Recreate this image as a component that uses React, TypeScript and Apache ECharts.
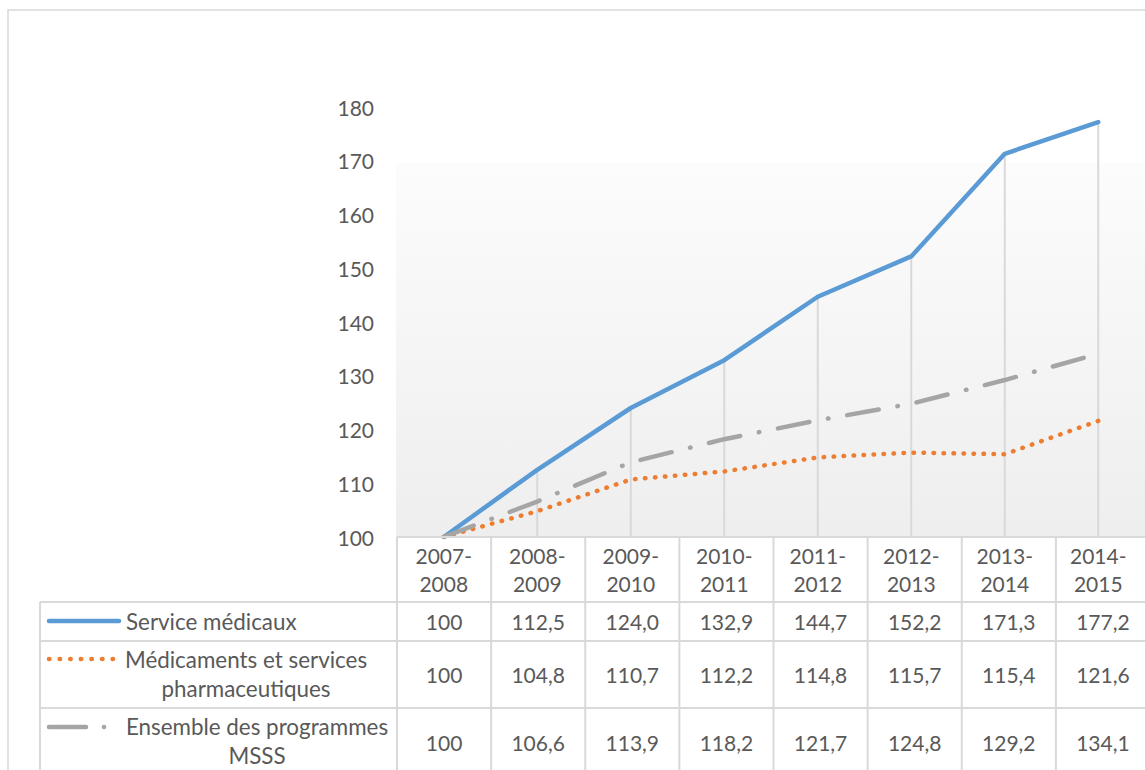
import React, { useEffect, useRef } from "react";
import * as echarts from "echarts";

const categories = ["2007-2008", "2008-2009", "2009-2010", "2010-2011", "2011-2012", "2012-2013", "2013-2014", "2014-2015"];
const serviceMedicaux = [100, 112.5, 124.0, 132.9, 144.7, 152.2, 171.3, 177.2];
const medicaments = [100, 104.8, 110.7, 112.2, 114.8, 115.7, 115.4, 121.6];
const ensemble = [100, 106.6, 113.9, 118.2, 121.7, 124.8, 129.2, 134.1];
const seriesNames = ["Service médicaux", "Médicaments et services\npharmaceutiques", "Ensemble des programmes\nMSSS"];
const yTicks = { min: 100, max: 180, interval: 10 };

const COLORS = ["#5B9BD5", "#ED7D31", "#A5A5A5"];
const TEXT = "#595959";
const BORDER = "#d9d9d9";
const FONT = "Lato";
const FS = 21;
const FS_LEG = 22.4;

export default function App() {
  const ref = useRef<HTMLDivElement>(null);
  useEffect(() => {
    if (!ref.current) return;
    const chart = echarts.init(ref.current, undefined, { renderer: "svg" });

    const W = 1145, H = 770;
    const gridLeft = 397, gridWidth = 753, gridTop = 107, gridBottomY = 537;
    const colW = gridWidth / categories.length;
    const rows = [
      { top: 602, bottom: 641 },
      { top: 641, bottom: 708 },
      { top: 708, bottom: 776 },
    ];
    const allSeries = [serviceMedicaux, medicaments, ensemble];
    const maxPerCat = categories.map((_, i) => Math.max(serviceMedicaux[i], medicaments[i], ensemble[i]));
    const fmt = (v: number, i: number) => (i === 0 ? String(v) : v.toFixed(1).replace(".", ","));

    const graphics: any[] = [];
    graphics.push({ type: "rect", z: -20, shape: { x: 8, y: 10, width: 1300, height: 900 }, style: { fill: "#fff", stroke: BORDER, lineWidth: 1.5 } });
    graphics.push({
      type: "rect", z: -10,
      shape: { x: 396, y: 163, width: 760, height: gridBottomY - 163 },
      style: { fill: new echarts.graphic.LinearGradient(0, 0, 0, 1, [{ offset: 0, color: "#fcfcfc" }, { offset: 1, color: "#eeeeee" }]) },
    });
    for (let k = 0; k <= categories.length; k++) {
      const x = gridLeft + k * colW;
      graphics.push({ type: "line", z: 5, shape: { x1: x, y1: gridBottomY, x2: x, y2: H + 10 }, style: { stroke: BORDER, lineWidth: 2 } });
    }
    graphics.push({ type: "line", z: 5, shape: { x1: gridLeft, y1: gridBottomY, x2: W + 10, y2: gridBottomY }, style: { stroke: BORDER, lineWidth: 2 } });
    rows.forEach((r) => {
      graphics.push({ type: "line", z: 5, shape: { x1: 40, y1: r.top, x2: W + 10, y2: r.top }, style: { stroke: BORDER, lineWidth: 2 } });
    });
    graphics.push({ type: "line", z: 5, shape: { x1: 40, y1: rows[0].top, x2: 40, y2: H + 10 }, style: { stroke: BORDER, lineWidth: 2 } });
    allSeries.forEach((vals, s) => {
      const cy = (rows[s].top + rows[s].bottom) / 2;
      vals.forEach((v, i) => {
        graphics.push({
          type: "text", z: 6, x: gridLeft + (i + 0.5) * colW, y: cy,
          style: { text: fmt(v, i), fill: TEXT, font: `${FS}px ${FONT}`, align: "center", verticalAlign: "middle" },
        });
      });
    });
    graphics.push({ type: "line", z: 6, shape: { x1: 49, y1: 621, x2: 119, y2: 621 }, style: { stroke: COLORS[0], lineWidth: 4.5, lineCap: "round" } });
    graphics.push({ type: "line", z: 6, shape: { x1: 49, y1: 659, x2: 113, y2: 659 }, style: { stroke: COLORS[1], lineWidth: 4.5, lineCap: "round", lineDash: [0.5, 10.1] } });
    graphics.push({ type: "line", z: 6, shape: { x1: 49, y1: 727, x2: 86, y2: 727 }, style: { stroke: COLORS[2], lineWidth: 4.5, lineCap: "round" } });
    graphics.push({ type: "circle", z: 6, shape: { cx: 104, cy: 727, r: 2.3 }, style: { fill: COLORS[2] } });
    const legendPos = [
      { x: 126, y: 621, align: "left" },
      { x: 246, y: 674, align: "center" },
      { x: 257, y: 741, align: "center" },
    ];
    seriesNames.forEach((n, s) => {
      graphics.push({
        type: "text", z: 6, x: legendPos[s].x, y: legendPos[s].y,
        style: { text: n, fill: TEXT, font: `${FS_LEG}px ${FONT}`, align: legendPos[s].align, verticalAlign: "middle", lineHeight: 29 },
      });
    });

    chart.setOption({
      animation: false,
      textStyle: { fontFamily: FONT },
      grid: { left: gridLeft, right: W - gridLeft - gridWidth, top: gridTop, bottom: H - gridBottomY, containLabel: false },
      xAxis: {
        type: "category",
        data: categories,
        boundaryGap: true,
        axisLine: { show: false },
        axisTick: { show: false },
        splitLine: { show: false },
        axisLabel: {
          margin: 4,
          color: TEXT,
          fontSize: FS,
          fontFamily: FONT,
          lineHeight: 28,
          formatter: (v: string) => v.replace("-", "-\n"),
        },
      },
      yAxis: {
        type: "value",
        min: yTicks.min,
        max: yTicks.max,
        interval: yTicks.interval,
        axisLine: { show: false },
        axisTick: { show: false },
        splitLine: { show: false },
        axisLabel: { margin: 23, color: TEXT, fontSize: FS, fontFamily: FONT },
      },
      graphic: graphics,
      series: [
        {
          type: "custom",
          z: 1,
          data: maxPerCat.map((m, i) => [i, m]),
          renderItem: (params: any, api: any) => {
            const i = api.value(0);
            const top = api.coord([i, api.value(1)]);
            const bot = api.coord([i, yTicks.min]);
            return { type: "line", shape: { x1: top[0], y1: top[1], x2: bot[0], y2: bot[1] }, style: { stroke: BORDER, lineWidth: 2 } };
          },
        },
        {
          name: "Service médicaux", type: "line", data: serviceMedicaux, showSymbol: false, z: 3,
          lineStyle: { color: COLORS[0], width: 4.5, cap: "round", join: "round" },
        },
        {
          name: "Médicaments et services pharmaceutiques", type: "line", data: medicaments, showSymbol: false, z: 3,
          lineStyle: { color: COLORS[1], width: 4.5, cap: "round", join: "round", type: [0.5, 9.5] },
        },
        {
          name: "Ensemble des programmes MSSS", type: "line", data: ensemble, showSymbol: false, z: 3,
          lineStyle: { color: COLORS[2], width: 4.5, cap: "round", join: "round", type: [32, 19, 0.5, 19] },
        },
      ],
    });
    return () => chart.dispose();
  }, []);
  return <div ref={ref} style={{ position: "fixed", left: 0, top: 0, width: 1145, height: 770, background: "#fff" }} />;
}
